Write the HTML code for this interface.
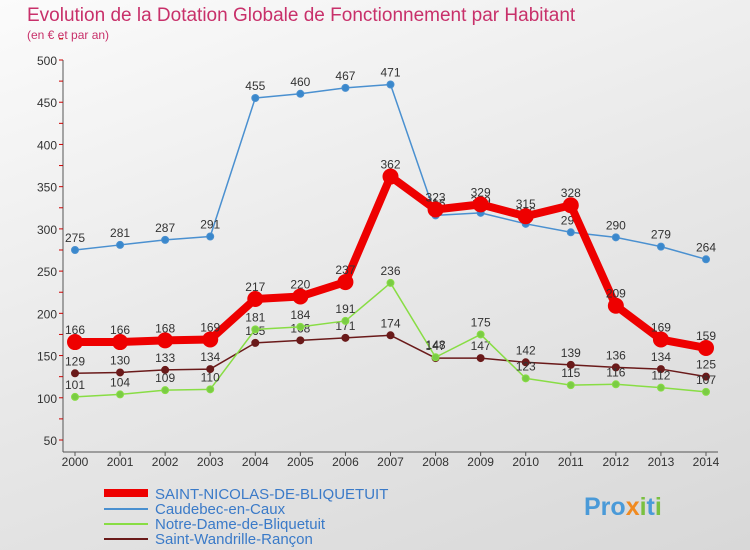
<!DOCTYPE html>
<html><head><meta charset="utf-8"><style>
body{margin:0;width:750px;height:550px;overflow:hidden;font-family:"Liberation Sans",sans-serif}
#bg{position:absolute;left:0;top:0;width:750px;height:550px;background:linear-gradient(160deg,#fbfbfb 0%,#e8e8e8 50%,#d8d8d8 100%)}
svg{position:absolute;left:0;top:0}
</style></head><body>
<div id="bg"></div>
<svg id="chart" width="750" height="550">
<text x="27" y="21" font-size="19" fill="#c8306a">Evolution de la Dotation Globale de Fonctionnement par Habitant</text>
<text x="27" y="39" font-size="12" fill="#c8306a">(en € et par an)</text>
<g id="axes"></g><g id="series"></g>
<g>
<line x1="104" y1="493" x2="148" y2="493" stroke="#ee0000" stroke-width="8"/>
<text x="155" y="499" font-size="15" fill="#3a7ac8">SAINT-NICOLAS-DE-BLIQUETUIT</text>
<line x1="104" y1="509" x2="148" y2="509" stroke="#4a90d0" stroke-width="2"/>
<text x="155" y="514" font-size="15" fill="#3a7ac8">Caudebec-en-Caux</text>
<line x1="104" y1="524" x2="148" y2="524" stroke="#88dd44" stroke-width="2"/>
<text x="155" y="529" font-size="15" fill="#3a7ac8">Notre-Dame-de-Bliquetuit</text>
<line x1="104" y1="539" x2="148" y2="539" stroke="#6a1a1a" stroke-width="2"/>
<text x="155" y="544" font-size="15" fill="#3a7ac8">Saint-Wandrille-Rançon</text>
</g>
<text x="584" y="515" font-size="25" font-weight="bold" fill="#4a9ad8">Pro<tspan fill="#f08a20">x</tspan><tspan fill="#7ac040">i</tspan>t<tspan fill="#7ac040">i</tspan></text>
</svg>
<script>
const years=[2000,2001,2002,2003,2004,2005,2006,2007,2008,2009,2010,2011,2012,2013,2014];
const yTicks=[50,100,150,200,250,300,350,400,450,500];
const sStNicolas=[166,166,168,169,217,220,237,362,323,329,315,328,209,169,159];
const sCaudebec=[275,281,287,291,455,460,467,471,316,319,306,296,290,279,264];
const sNotreDame=[101,104,109,110,181,184,191,236,148,175,123,115,116,112,107];
const sWandrille=[129,130,133,134,165,168,171,174,147,147,142,139,136,134,125];
const NS='http://www.w3.org/2000/svg';
const x=i=>75+i*(706-75)/14;
const y=v=>60+(500-v)*(380/450);
function mk(t,a,p){const e=document.createElementNS(NS,t);for(const k in a)e.setAttribute(k,a[k]);p.appendChild(e);return e;}
const ax=document.getElementById('axes');
mk('line',{x1:63,y1:60,x2:63,y2:452,stroke:'#555'},ax);
mk('line',{x1:63,y1:452,x2:718,y2:452,stroke:'#555'},ax);
yTicks.forEach(v=>{const t=mk('text',{x:57,y:y(v)+5,'font-size':12,fill:'#333','text-anchor':'end'},ax);t.textContent=v;

mk('line',{x1:59,y1:y(v),x2:63,y2:y(v),stroke:'#c00'},ax);mk('line',{x1:59,y1:y(v+25),x2:63,y2:y(v+25),stroke:'#c00'},ax);});
years.forEach((yr,i)=>{const t=mk('text',{x:x(i),y:466,'font-size':12,fill:'#333','text-anchor':'middle'},ax);t.textContent=yr;

mk('line',{x1:x(i),y1:452,x2:x(i),y2:456,stroke:'#555'},ax);});
const sg=document.getElementById('series');
function draw(data,color,w,r,fill,name){
 const g=mk('g',{},sg);
 
 
 mk('polyline',{points:data.map((v,i)=>x(i)+','+y(v)).join(' '),fill:'none',stroke:color,'stroke-width':w,'stroke-linejoin':'round'},g);
 data.forEach((v,i)=>{const c=mk('circle',{cx:x(i),cy:y(v),r:r,fill:fill,stroke:color,'stroke-width':1},g);
  
  const t=mk('text',{x:x(i),y:y(v)-8,'font-size':12,fill:'#333','text-anchor':'middle'},g);t.textContent=v;
  });
}
draw(sWandrille,'#6a1a1a',1.5,3.5,'#6a1a1a','series-saint-wandrille');
draw(sNotreDame,'#88dd44',1.5,3.5,'#7acc44','series-notre-dame');
draw(sCaudebec,'#4a90d0',1.5,3.5,'#3a88cc','series-caudebec');
draw(sStNicolas,'#ee0000',8,7.5,'#ee0000','series-saint-nicolas');
</script>
</body></html>
